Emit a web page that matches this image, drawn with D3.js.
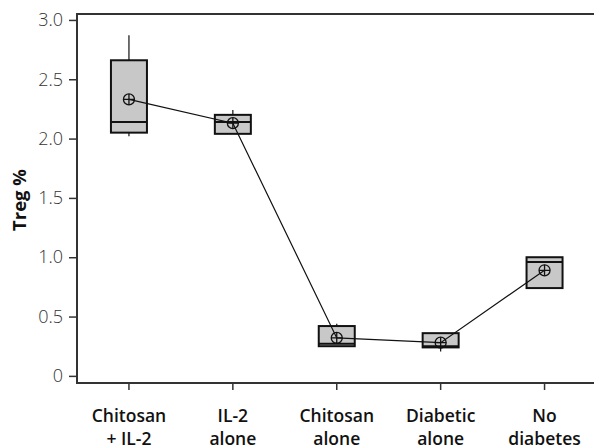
<!DOCTYPE html>
<html>
<head>
<meta charset="utf-8">
<script src="https://cdn.jsdelivr.net/npm/d3@7"></script>
<style>
  body { margin: 0; background: #fff; }
  svg { display: block; }
</style>
</head>
<body>
<div id="chart"></div>
<script>
// Box plot values
const categories = [["Chitosan", "+ IL-2"], ["IL-2", "alone"], ["Chitosan", "alone"], ["Diabetic", "alone"], ["No", "diabetes"]];
const whiskerHigh = [2.87, 2.24, 0.44, 0.36, 1.00];
const q3 = [2.66, 2.20, 0.42, 0.36, 1.00];
const median = [2.14, 2.14, 0.27, 0.25, 0.96];
const q1 = [2.05, 2.04, 0.25, 0.24, 0.74];
const whiskerLow = [2.02, 2.04, 0.25, 0.205, 0.74];
const means = [2.33, 2.13, 0.32, 0.28, 0.89];
const yTicks = [0, 0.5, 1.0, 1.5, 2.0, 2.5, 3.0];

const width = 594, height = 447;
const margin = { left: 77, top: 14, bottom: 383, right: 596.5 };

const svg = d3.select("#chart")
    .append("svg")
    .attr("width", width)
    .attr("height", height);

const keys = categories.map((c, i) => i);

const x = d3.scaleBand()
    .domain(keys)
    .range([margin.left, margin.right])
    .padding(0);

const y = d3.scaleLinear()
    .domain([-0.06, 3.05])
    .range([margin.bottom, margin.top]);

const tickFont = "'Open Sans', sans-serif";

// y axis
const yAxis = svg.append("g")
    .attr("transform", `translate(${margin.left},0)`)
    .call(d3.axisLeft(y).tickValues(yTicks).tickSize(8).tickPadding(6)
        .tickFormat(d => d === 0 ? "0" : d3.format(".1f")(d)));
yAxis.select(".domain").remove();
yAxis.selectAll("line").attr("stroke", "#333").attr("stroke-width", 1.5);
yAxis.selectAll("text")
    .style("font-family", tickFont)
    .style("font-weight", 300)
    .style("font-size", "18px")
    .attr("fill", "#333");

// x axis
const xAxis = svg.append("g")
    .attr("transform", `translate(0,${margin.bottom})`)
    .call(d3.axisBottom(x).tickSize(7).tickFormat(""));
xAxis.select(".domain").remove();
xAxis.selectAll("line").attr("stroke", "#333").attr("stroke-width", 1.5);

xAxis.selectAll(".tick").each(function(d) {
    const t = d3.select(this).append("text")
        .attr("text-anchor", "middle")
        .attr("fill", "#111")
        .style("font-family", tickFont)
        .style("font-weight", 600)
        .style("font-size", "17.5px");
    categories[d].forEach((line, j) => {
        t.append("tspan").attr("x", 0).attr("y", 39 + j * 23).text(line);
    });
});

// frame: left, bottom, top
svg.append("path")
    .attr("d", `M${width + 2},${margin.top}H${margin.left}V${margin.bottom}H${width + 2}`)
    .attr("fill", "none")
    .attr("stroke", "#333")
    .attr("stroke-width", 2);

// y label
svg.append("text")
    .attr("transform", "translate(26,200) rotate(-90)")
    .attr("text-anchor", "middle")
    .style("font-family", tickFont)
    .style("font-weight", 700)
    .style("font-size", "18.5px")
    .attr("fill", "#111")
    .text("Treg %");

const boxW = 36;
const boxes = svg.append("g");

keys.forEach(i => {
    const cx = x(i) + x.bandwidth() / 2;
    const g = boxes.append("g");
    // whiskers
    g.append("line")
        .attr("x1", cx).attr("x2", cx)
        .attr("y1", y(whiskerHigh[i])).attr("y2", y(q3[i]))
        .attr("stroke", "#111").attr("stroke-width", 1.2);
    g.append("line")
        .attr("x1", cx).attr("x2", cx)
        .attr("y1", y(q1[i])).attr("y2", y(whiskerLow[i]))
        .attr("stroke", "#111").attr("stroke-width", 1.2);
    g.append("rect")
        .attr("x", cx - boxW / 2)
        .attr("y", y(q3[i]))
        .attr("width", boxW)
        .attr("height", y(q1[i]) - y(q3[i]))
        .attr("fill", "#c8c8c8")
        .attr("stroke", "#111")
        .attr("stroke-width", 2);
    g.append("line")
        .attr("x1", cx - boxW / 2).attr("x2", cx + boxW / 2)
        .attr("y1", y(median[i])).attr("y2", y(median[i]))
        .attr("stroke", "#111").attr("stroke-width", 2);
});

// mean connect line
const line = d3.line()
    .x((d, i) => x(i) + x.bandwidth() / 2)
    .y(d => y(d));

svg.append("path")
    .datum(means)
    .attr("d", line)
    .attr("fill", "none")
    .attr("stroke", "#111")
    .attr("stroke-width", 1.2);

// mean symbols
const r = 5.5;
const meanG = svg.append("g")
    .selectAll("g")
    .data(means)
    .join("g")
    .attr("transform", (d, i) => `translate(${x(i) + x.bandwidth() / 2},${y(d)})`);
meanG.append("circle")
    .attr("r", r)
    .attr("fill", "none")
    .attr("stroke", "#111")
    .attr("stroke-width", 1.3);
meanG.append("path")
    .attr("d", `M${-r},0H${r}M0,${-r}V${r}`)
    .attr("stroke", "#111")
    .attr("stroke-width", 1.3);
</script>
</body>
</html>
